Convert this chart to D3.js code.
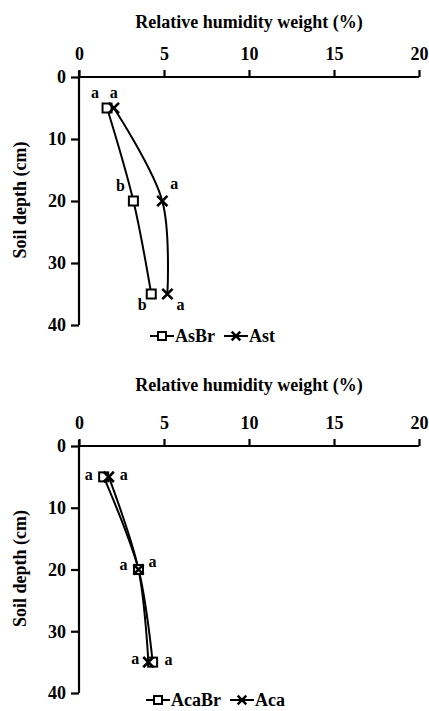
<!DOCTYPE html>
<html><head><meta charset="utf-8">
<script src="https://cdn.jsdelivr.net/npm/d3@7"></script>
<style>body{margin:0;background:#fff}svg{display:block}text{font-family:"Liberation Serif","Times New Roman",serif;font-weight:bold;fill:#000}</style>
</head><body><svg id="c" width="429" height="711"></svg>
<script>
const depths = [5, 20, 35];
const xTicks = [0, 5, 10, 15, 20];
const yTicks = [0, 10, 20, 30, 40];
const xTitle = "Relative humidity weight (%)";
const yTitle = "Soil depth (cm)";

// Panel 1
const p1Names = ["AsBr", "Ast"];
const asBr = [1.65, 3.2, 4.25];
const ast = [2.05, 4.9, 5.2];
const asBrLetters = ["a", "b", "b"];
const astLetters = ["a", "a", "a"];

// Panel 2
const p2Names = ["AcaBr", "Aca"];
const acaBr = [1.45, 3.5, 4.33];
const aca = [1.75, 3.5, 4.08];
const acaBrLetters = ["a", "a", "a"];
const acaLetters = ["a", "a", "a"];

const svg = d3.select("#c");

function panel(top, bottom, seriesA, seriesB, lettersA, lettersB, names, letterPosA, letterPosB, legendX, legendY, titleY) {
  const x = d3.scaleLinear().domain([0, 20]).range([79, 419]);
  const y = d3.scaleLinear().domain([0, 40]).range([top, bottom]);
  const g = svg.append("g");

  g.append("text").attr("x", 249).attr("y", titleY).attr("text-anchor", "middle")
    .style("font-size", "18px").text(xTitle);

  const xa = g.append("g").attr("transform", `translate(0,${top})`)
    .call(d3.axisTop(x).tickValues(xTicks).tickSize(7).tickPadding(10).tickFormat(d3.format("d")));
  xa.selectAll("text").style("font-size", "18px");
  const ya = g.append("g").attr("transform", `translate(79,0)`)
    .call(d3.axisLeft(y).tickValues(yTicks).tickSize(8).tickPadding(5).tickFormat(d3.format("d")));
  ya.selectAll("text").style("font-size", "18px");
  g.selectAll(".domain").attr("stroke-width", 2.2).attr("d", null);
  xa.select(".domain").attr("d", `M79,0H419`);
  ya.select(".domain").attr("d", `M0,${top - 6}V${bottom}`);
  g.selectAll(".tick line").attr("stroke-width", 2.2);

  g.append("text").attr("transform", `translate(26,${(top + bottom) / 2 - 1}) rotate(-90)`)
    .attr("text-anchor", "middle").style("font-size", "18px").text(yTitle);

  const line = d3.line().x(d => x(d[0])).y(d => y(d[1])).curve(d3.curveCatmullRom.alpha(0.5));
  const ptsA = seriesA.map((v, i) => [v, depths[i]]);
  const ptsB = seriesB.map((v, i) => [v, depths[i]]);
  g.append("path").attr("d", line(ptsA)).attr("fill", "none").attr("stroke", "#000").attr("stroke-width", 2);
  g.append("path").attr("d", line(ptsB)).attr("fill", "none").attr("stroke", "#000").attr("stroke-width", 2);

  g.selectAll(null).data(ptsA).enter().append("rect")
    .attr("x", d => x(d[0]) - 4.5).attr("y", d => y(d[1]) - 4.5).attr("width", 9).attr("height", 9)
    .attr("fill", "#fff").attr("stroke", "#000").attr("stroke-width", 2);
  const cross = d3.symbol().type(d3.symbolX).size(70);
  g.selectAll(null).data(ptsB).enter().append("path")
    .attr("d", cross).attr("transform", d => `translate(${x(d[0])},${y(d[1])})`)
    .attr("fill", "none").attr("stroke", "#000").attr("stroke-width", 2.6);

  ptsA.forEach((d, i) => g.append("text").attr("x", x(d[0]) + letterPosA[i][0]).attr("y", y(d[1]) + letterPosA[i][1])
    .attr("text-anchor", "middle").style("font-size", "16px").text(lettersA[i]));
  ptsB.forEach((d, i) => g.append("text").attr("x", x(d[0]) + letterPosB[i][0]).attr("y", y(d[1]) + letterPosB[i][1])
    .attr("text-anchor", "middle").style("font-size", "16px").text(lettersB[i]));

  // legend
  const lg = g.append("g").attr("transform", `translate(${legendX},${legendY})`);
  let cx = 0;
  names.forEach((n, i) => {
    lg.append("line").attr("x1", cx).attr("x2", cx + 24).attr("y1", 0).attr("y2", 0).attr("stroke", "#000").attr("stroke-width", 2);
    if (i === 0) {
      lg.append("rect").attr("x", cx + 8).attr("y", -4).attr("width", 8).attr("height", 8).attr("fill", "#fff").attr("stroke", "#000").attr("stroke-width", 2);
    } else {
      lg.append("path").attr("d", d3.symbol().type(d3.symbolX).size(50)).attr("transform", `translate(${cx + 12},0)`).attr("stroke", "#000").attr("stroke-width", 2.4);
    }
    const t = lg.append("text").attr("x", cx + 25).attr("y", 6).style("font-size", "18px").text(n);
    cx += 25 + t.node().getComputedTextLength() + 9;
  });
}

panel(77, 325, asBr, ast, asBrLetters, astLetters, p1Names,
  [[-12, -10], [-13, -10], [-9, 16]], [[0, -10], [12, -12], [13, 16]], 150, 336, 28);
panel(446, 693, acaBr, aca, acaBrLetters, acaLetters, p2Names,
  [[-15, 3], [-15, 0], [16, 3]], [[15, 3], [14, -3], [-13, 2]], 146, 700, 391);
</script></body></html>
